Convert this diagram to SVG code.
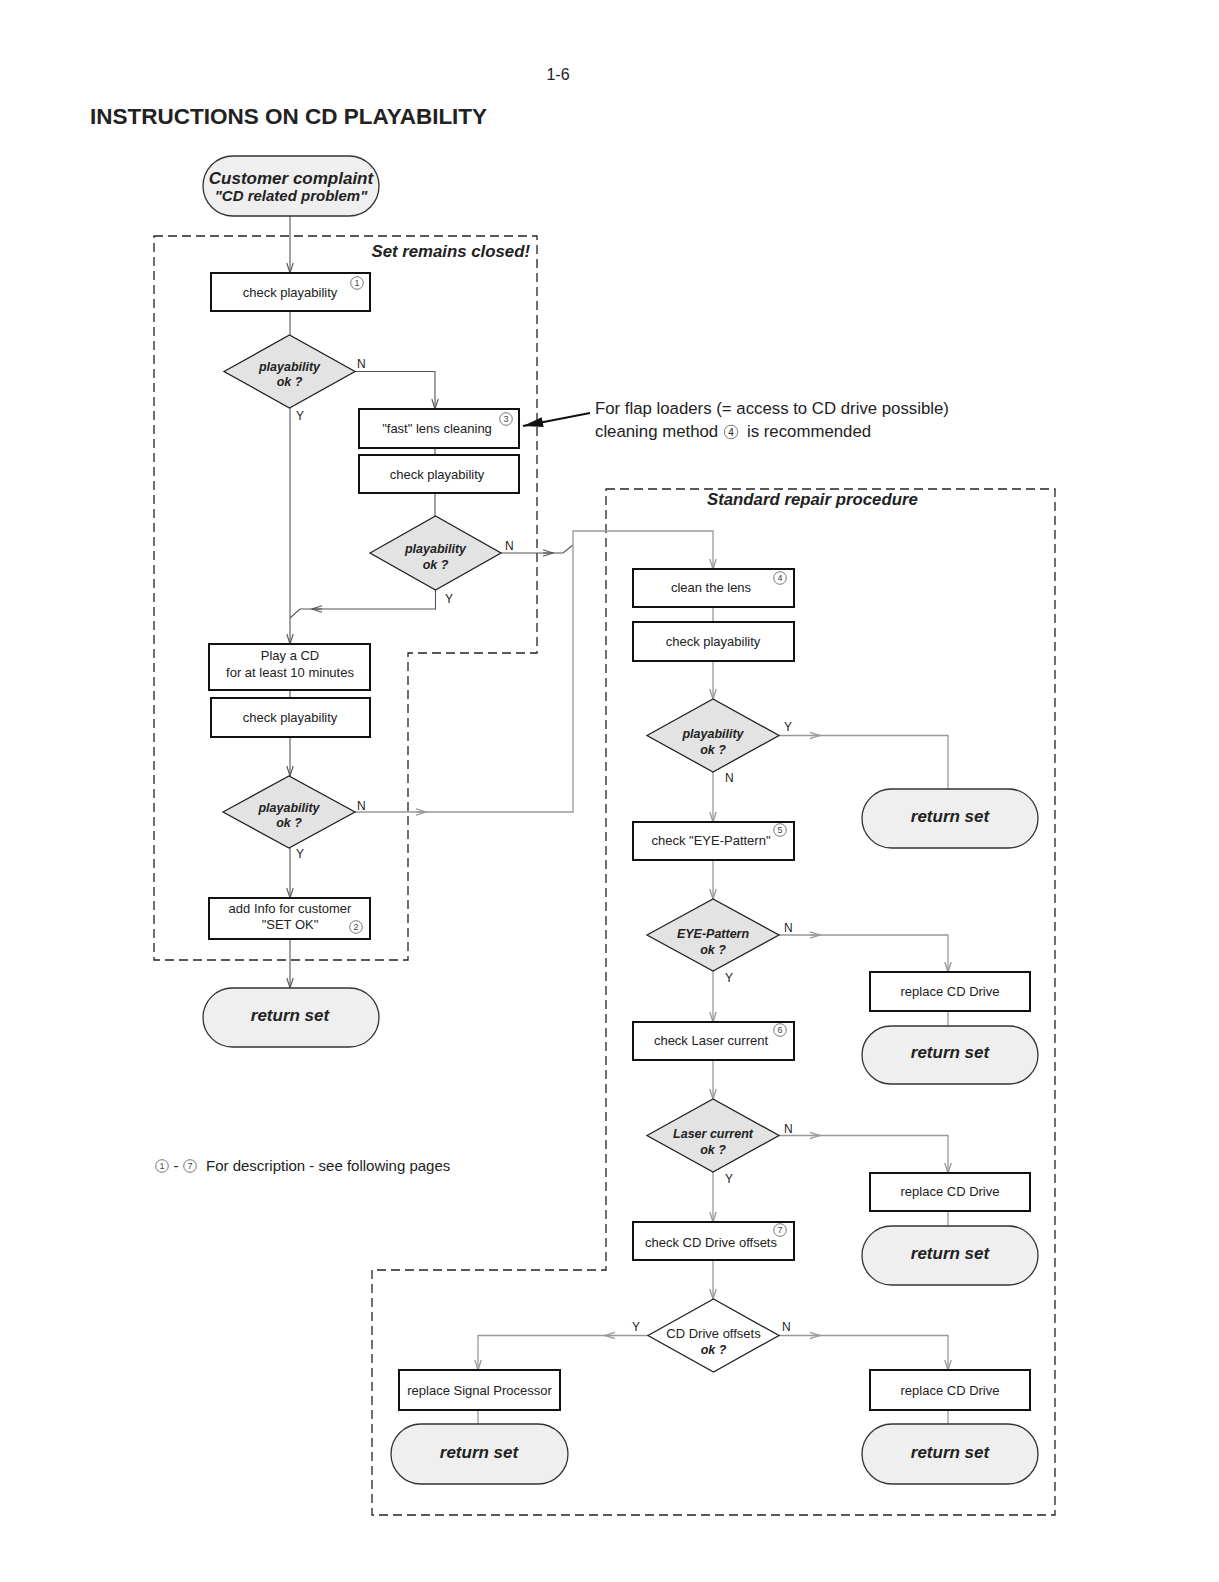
<svg xmlns="http://www.w3.org/2000/svg" width="1219" height="1582" viewBox="0 0 1219 1582">
<defs>
<style>
text{font-family:"Liberation Sans",Arial,sans-serif;fill:#222}
.box{fill:#fff;stroke:#111;stroke-width:2}
.pill{fill:#efefef;stroke:#333;stroke-width:1.3}
.dia{fill:#e3e3e3;stroke:#222;stroke-width:1.3}
.diaw{fill:#fff;stroke:#222;stroke-width:1.3}
.t{font-size:13px;text-anchor:middle}
.dt{font-size:12.5px;font-weight:bold;font-style:italic;text-anchor:middle}
.rt{font-size:17px;font-weight:bold;font-style:italic;text-anchor:middle}
.lbl{font-size:12px}
.hd{font-size:16.8px;font-weight:bold;font-style:italic}
.cn{fill:#fff;stroke:#555;stroke-width:0.8}
.cnt{font-size:9px;text-anchor:middle;fill:#444}
.dash{fill:none;stroke:#222;stroke-width:1.3;stroke-dasharray:9 5}
.c1{fill:none;stroke:#555;stroke-width:1.1}
.c2{fill:none;stroke:#999;stroke-width:1.3}
</style>
<marker id="a1" markerUnits="userSpaceOnUse" markerWidth="12" markerHeight="8" viewBox="-11 -4 12 8" refX="0" refY="0" orient="auto" overflow="visible"><path d="M-10,-3.2 L0,0 L-10,3.2" fill="none" stroke="#555" stroke-width="1.1"/></marker>
<marker id="a2" markerUnits="userSpaceOnUse" markerWidth="12" markerHeight="8" viewBox="-11 -4 12 8" refX="0" refY="0" orient="auto" overflow="visible"><path d="M-10,-3.2 L0,0 L-10,3.2" fill="none" stroke="#999" stroke-width="1.3"/></marker>
<marker id="fa" markerUnits="userSpaceOnUse" markerWidth="22" markerHeight="12" viewBox="-21 -6 22 12" refX="0" refY="0" orient="auto" overflow="visible"><path d="M-20,-5 L0,0 L-20,5 Z" fill="#111"/></marker>
</defs>

<text x="558" y="80" font-size="16" text-anchor="middle">1-6</text>
<text x="90" y="124" font-size="22.5" font-weight="bold">INSTRUCTIONS ON CD PLAYABILITY</text>

<g id="regions">
<path class="dash" d="M154,236 H537 V653 H408 V960 H154 Z"/>
<text class="hd" x="530" y="257" text-anchor="end">Set remains closed!</text>
<path class="dash" d="M606,489 H1055 V1515 H372 V1270 H606 Z"/>
<text class="hd" x="707" y="505">Standard repair procedure</text>
</g>

<g id="connectors">
<path class="c1" d="M290,216 V273" marker-end="url(#a1)"/>
<path class="c1" d="M290,311 V335"/>
<path class="c1" d="M290,408 V644" marker-end="url(#a1)"/>
<path class="c1" d="M355,371.5 H435 V409" marker-end="url(#a1)"/>
<path class="c1" d="M435,448 V455"/>
<path class="c1" d="M435,493 V516"/>
<path class="c1" d="M435.5,590 V609 H300 L290,618"/>
<path class="c1" d="M322,609 H312" marker-end="url(#a1)"/>
<path class="c1" d="M501,553 H563 L573,545"/>
<path class="c1" d="M543,553 H553" marker-end="url(#a1)"/>
<path class="c1" d="M290,690 V698"/>
<path class="c1" d="M290,737 V776" marker-end="url(#a1)"/>
<path class="c1" d="M290,848 V898" marker-end="url(#a1)"/>
<path class="c1" d="M290,939 V988" marker-end="url(#a1)"/>
<path class="c2" d="M355,812 H573 V531 H713 V569" marker-end="url(#a2)"/>
<path class="c2" d="M416,812 H426" marker-end="url(#a2)"/>
<path d="M590,413 L523,426" fill="none" stroke="#111" stroke-width="1.8" marker-end="url(#fa)"/>

<path class="c2" d="M713,607 V622"/>
<path class="c2" d="M713,661 V699" marker-end="url(#a2)"/>
<path class="c2" d="M779,735.5 H948 V789"/>
<path class="c2" d="M810,735.5 H820" marker-end="url(#a2)"/>
<path class="c2" d="M713,772 V822" marker-end="url(#a2)"/>
<path class="c2" d="M713,860 V899" marker-end="url(#a2)"/>
<path class="c2" d="M779,935 H948 V972" marker-end="url(#a2)"/>
<path class="c2" d="M810,935 H820" marker-end="url(#a2)"/>
<path class="c2" d="M948,1011 V1026"/>
<path class="c2" d="M713,971 V1022" marker-end="url(#a2)"/>
<path class="c2" d="M713,1060 V1099" marker-end="url(#a2)"/>
<path class="c2" d="M779,1135.5 H948 V1173" marker-end="url(#a2)"/>
<path class="c2" d="M810,1135.5 H820" marker-end="url(#a2)"/>
<path class="c2" d="M948,1211 V1226"/>
<path class="c2" d="M713,1172 V1222" marker-end="url(#a2)"/>
<path class="c2" d="M713,1260 V1299" marker-end="url(#a2)"/>
<path class="c2" d="M648,1335.5 H478 V1370" marker-end="url(#a2)"/>
<path class="c2" d="M615,1335.5 H605" marker-end="url(#a2)"/>
<path class="c2" d="M779,1335.5 H948 V1370" marker-end="url(#a2)"/>
<path class="c2" d="M810,1335.5 H820" marker-end="url(#a2)"/>
<path class="c2" d="M478,1410 V1424"/>
<path class="c2" d="M948,1410 V1424"/>
</g>

<g id="n_start">
<rect class="pill" x="203" y="156" width="176" height="60" rx="30"/>
<text x="291" y="184" font-size="17" font-weight="bold" font-style="italic" text-anchor="middle">Customer complaint</text>
<text x="291" y="201" font-size="15" font-weight="bold" font-style="italic" text-anchor="middle">"CD related problem"</text>
</g>

<g id="n_check1">
<rect class="box" x="211" y="273" width="159" height="38"/>
<text class="t" x="290" y="297">check playability</text>
<circle class="cn" cx="357" cy="283" r="6.3"/><text class="cnt" x="357" y="286.3">1</text>
</g>
<g id="n_dec1">
<polygon class="dia" points="224,371.5 289.5,335 355,371.5 289.5,408"/>
<text class="dt" x="289.5" y="371">playability</text>
<text class="dt" x="289.5" y="386">ok ?</text>
<text class="lbl" x="357" y="368">N</text>
<text class="lbl" x="296" y="420">Y</text>
</g>
<g id="n_fast">
<rect class="box" x="359" y="409" width="160" height="39"/>
<text class="t" x="437" y="433">"fast" lens cleaning</text>
<circle class="cn" cx="506" cy="419" r="6.3"/><text class="cnt" x="506" y="422.3">3</text>
</g>
<g id="n_check2">
<rect class="box" x="359" y="455" width="160" height="38"/>
<text class="t" x="437" y="479">check playability</text>
</g>
<g id="n_dec2">
<polygon class="dia" points="370,553 435.5,516 501,553 435.5,590"/>
<text class="dt" x="435.5" y="553">playability</text>
<text class="dt" x="435.5" y="569">ok ?</text>
<text class="lbl" x="505" y="550">N</text>
<text class="lbl" x="445" y="603">Y</text>
</g>
<g id="n_note">
<text x="595" y="414" font-size="16.8">For flap loaders (= access to CD drive possible)</text>
<text x="595" y="437" font-size="16.8">cleaning method</text>
<circle class="cn" cx="731" cy="432" r="6.8"/><text x="731" y="435.5" font-size="10" text-anchor="middle" fill="#444">4</text>
<text x="747" y="437" font-size="16.8">is recommended</text>
</g>
<g id="n_play">
<rect class="box" x="209" y="644" width="161" height="46"/>
<text class="t" x="290" y="660">Play a CD</text>
<text class="t" x="290" y="677">for at least 10 minutes</text>
</g>
<g id="n_check3">
<rect class="box" x="211" y="698" width="159" height="39"/>
<text class="t" x="290" y="722">check playability</text>
</g>
<g id="n_dec3">
<polygon class="dia" points="223,812 289,776 355,812 289,848"/>
<text class="dt" x="289" y="812">playability</text>
<text class="dt" x="289" y="827">ok ?</text>
<text class="lbl" x="357" y="810">N</text>
<text class="lbl" x="296" y="858">Y</text>
</g>
<g id="n_info">
<rect class="box" x="209" y="898" width="161" height="41"/>
<text class="t" x="290" y="913">add Info for customer</text>
<text class="t" x="290" y="929">"SET OK"</text>
<circle class="cn" cx="356" cy="927" r="6.3"/><text class="cnt" x="356" y="930.3">2</text>
</g>
<g id="n_ret1">
<rect class="pill" x="203" y="988" width="176" height="59" rx="29.5"/>
<text class="rt" x="290" y="1021">return set</text>
</g>

<g id="n_clean">
<rect class="box" x="633" y="569" width="161" height="38"/>
<text class="t" x="711" y="592">clean the lens</text>
<circle class="cn" cx="780" cy="578" r="6.3"/><text class="cnt" x="780" y="581.3">4</text>
</g>
<g id="n_check4">
<rect class="box" x="633" y="622" width="161" height="39"/>
<text class="t" x="713" y="646">check playability</text>
</g>
<g id="n_dec4">
<polygon class="dia" points="647,735.5 713,699 779,735.5 713,772"/>
<text class="dt" x="713" y="738">playability</text>
<text class="dt" x="713" y="754">ok ?</text>
<text class="lbl" x="784" y="731">Y</text>
<text class="lbl" x="725" y="782">N</text>
</g>
<g id="n_ret2">
<rect class="pill" x="862" y="789" width="176" height="59" rx="29.5"/>
<text class="rt" x="950" y="822">return set</text>
</g>
<g id="n_eye">
<rect class="box" x="633" y="822" width="161" height="38"/>
<text class="t" x="711" y="845">check "EYE-Pattern"</text>
<circle class="cn" cx="780" cy="830" r="6.3"/><text class="cnt" x="780" y="833.3">5</text>
</g>
<g id="n_dec5">
<polygon class="dia" points="647,935 713,899 779,935 713,971"/>
<text class="dt" x="713" y="938">EYE-Pattern</text>
<text class="dt" x="713" y="954">ok ?</text>
<text class="lbl" x="784" y="932">N</text>
<text class="lbl" x="725" y="982">Y</text>
</g>
<g id="n_rep1">
<rect class="box" x="870" y="972" width="160" height="39"/>
<text class="t" x="950" y="996">replace CD Drive</text>
</g>
<g id="n_ret3">
<rect class="pill" x="862" y="1026" width="176" height="58" rx="29"/>
<text class="rt" x="950" y="1058">return set</text>
</g>
<g id="n_laser">
<rect class="box" x="633" y="1022" width="161" height="38"/>
<text class="t" x="711" y="1045">check Laser current</text>
<circle class="cn" cx="780" cy="1030" r="6.3"/><text class="cnt" x="780" y="1033.3">6</text>
</g>
<g id="n_dec6">
<polygon class="dia" points="647,1135.5 713,1099 779,1135.5 713,1172"/>
<text class="dt" x="713" y="1138">Laser current</text>
<text class="dt" x="713" y="1154">ok ?</text>
<text class="lbl" x="784" y="1133">N</text>
<text class="lbl" x="725" y="1183">Y</text>
</g>
<g id="n_rep2">
<rect class="box" x="870" y="1173" width="160" height="38"/>
<text class="t" x="950" y="1196">replace CD Drive</text>
</g>
<g id="n_ret4">
<rect class="pill" x="862" y="1226" width="176" height="59" rx="29.5"/>
<text class="rt" x="950" y="1259">return set</text>
</g>
<g id="n_offs">
<rect class="box" x="633" y="1222" width="161" height="38"/>
<text class="t" x="711" y="1247">check CD Drive offsets</text>
<circle class="cn" cx="780" cy="1230" r="6.3"/><text class="cnt" x="780" y="1233.3">7</text>
</g>
<g id="n_dec7">
<polygon class="diaw" points="648,1335.5 713.5,1299 779,1335.5 713.5,1372"/>
<text class="t" x="713.5" y="1338">CD Drive offsets</text>
<text class="dt" x="713.5" y="1354">ok ?</text>
<text class="lbl" x="632" y="1331">Y</text>
<text class="lbl" x="782" y="1331">N</text>
</g>
<g id="n_repsp">
<rect class="box" x="399" y="1370" width="161" height="40"/>
<text class="t" x="479.5" y="1395">replace Signal Processor</text>
</g>
<g id="n_ret5">
<rect class="pill" x="391" y="1424" width="177" height="60" rx="30"/>
<text class="rt" x="479" y="1458">return set</text>
</g>
<g id="n_rep3">
<rect class="box" x="870" y="1370" width="160" height="40"/>
<text class="t" x="950" y="1395">replace CD Drive</text>
</g>
<g id="n_ret6">
<rect class="pill" x="862" y="1424" width="176" height="60" rx="30"/>
<text class="rt" x="950" y="1458">return set</text>
</g>

<g id="footnote">
<circle class="cn" cx="162" cy="1166" r="6.3"/><text class="cnt" x="162" y="1169.3">1</text>
<text x="176" y="1171" font-size="15" text-anchor="middle" fill="#333">-</text>
<circle class="cn" cx="190" cy="1166" r="6.3"/><text class="cnt" x="190" y="1169.3">7</text>
<text x="206" y="1171" font-size="15" fill="#333">For description - see following pages</text>
</g>
</svg>
